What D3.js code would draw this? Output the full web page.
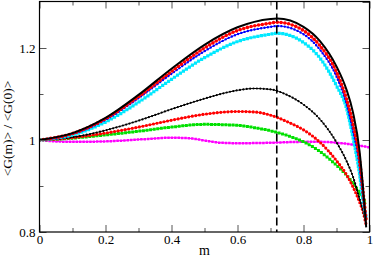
<!DOCTYPE html>
<html><head><meta charset="utf-8">
<script src="https://cdn.jsdelivr.net/npm/d3@7"></script>
<style>body{margin:0;background:#fff}svg{display:block}</style>
</head><body>
<svg id="c" width="374" height="258"></svg>
<script>
// ---- data ----
const mTop = [0,0.1,0.2,0.3,0.4,0.5,0.6,0.7,0.72,0.8,0.85,0.9,0.93,0.95,0.97,0.98,0.99];
const blackSolid = [1,1.015,1.048,1.098,1.155,1.207,1.245,1.263,1.264,1.246,1.215,1.160,1.11,1.06,0.975,0.90,0.81];
const redTop     = [1,1.014,1.046,1.094,1.149,1.200,1.238,1.254,1.256,1.238,1.205,1.148,1.09,1.035,0.955,0.89,0.825];
const blueTop    = [1,1.013,1.044,1.091,1.144,1.193,1.230,1.246,1.248,1.230,1.196,1.138,1.08,1.02,0.945,0.88,0.83];
const cyanTop    = [1,1.011,1.039,1.082,1.132,1.179,1.214,1.230,1.232,1.212,1.178,1.118,1.07,1.005,0.925,0.87,0.83];
const mLow = [0,0.1,0.2,0.3,0.4,0.5,0.6,0.65,0.7,0.75,0.8,0.85,0.9,0.93,0.95,0.97,0.98,0.99];
const blackDot = [1,1.006,1.021,1.042,1.067,1.090,1.108,1.112,1.110,1.098,1.077,1.045,0.995,0.955,0.92,0.872,0.848,0.82];
const redLow   = [1,1.005,1.015,1.028,1.043,1.056,1.062,1.061,1.054,1.040,1.022,0.995,0.955,0.925,0.898,0.865,0.845,0.815];
const greenLow = [1,1.004,1.011,1.019,1.028,1.034,1.032,1.027,1.020,1.010,0.996,0.975,0.945,0.924,0.906,0.885,0.874,0.862];
const mMag = [0,0.05,0.1,0.2,0.3,0.4,0.45,0.5,0.55,0.6,0.7,0.8,0.85,0.9,0.95,1.0];
const magenta = [1,0.997,0.996,0.997,1.001,1.005,1.004,0.999,0.994,0.993,0.994,0.996,0.996,0.994,0.99,0.984];
const mMark = 0.719;
const xTicks = [0,0.2,0.4,0.6,0.8,1];
const xTickLabels = ["0","0.2","0.4","0.6","0.8","1"];
const xMinor = [0.1,0.3,0.5,0.7,0.9];
const yTicks = [0.8,1,1.2];
const yTickLabels = ["0.8","1","1.2"];
const yMinor = [0.9,1.1];

// ---- chart ----
const svg = d3.select("#c");
const L=39.5,R=369.5,T=1.5,B=232;
const x = d3.scaleLinear([0,1],[L,R]);
const y = d3.scaleLinear([0.8,1.3],[B,2]);
const FONT = "Liberation Serif";

svg.append("clipPath").attr("id","clip").append("rect")
  .attr("x",L).attr("y",T).attr("width",R-L).attr("height",B-T);

const series = [
  {m:mMag, v:magenta, c:"#ff00ff", w:2.5, cap:"square", gap:3.4},
  {m:mLow, v:greenLow, c:"#00e000", w:3, cap:"square", gap:3.6},
  {m:mLow, v:redLow, c:"#ff0000", w:3.2, cap:"round", gap:3.6},
  {m:mLow, v:blackDot, c:"#000000", w:2.2, cap:"round", gap:3.4},
  {m:mTop, v:cyanTop, c:"#00e8ff", w:3.2, cap:"square", gap:3.6},
  {m:mTop, v:blueTop, c:"#0000ff", w:2.4, cap:"round", gap:3.4},
  {m:mTop, v:redTop, c:"#ff0000", w:3.6, cap:"round", gap:3.8},
];

const line = d3.line().x(d=>x(d[0])).y(d=>y(d[1])).curve(d3.curveMonotoneX);
const g = svg.append("g").attr("clip-path","url(#clip)");

series.forEach(s=>{
  const pts = s.m.map((m,i)=>[m,s.v[i]]);
  g.append("path").attr("d",line(pts)).attr("fill","none")
    .attr("stroke",s.c).attr("stroke-width",1);
  g.append("path").attr("d",line(pts)).attr("fill","none")
    .attr("stroke",s.c).attr("stroke-width",s.w)
    .attr("stroke-linecap",s.cap).attr("stroke-dasharray","0,"+s.gap);
});
g.append("path").attr("d",line(mTop.map((m,i)=>[m,blackSolid[i]])))
  .attr("fill","none").attr("stroke","#000").attr("stroke-width",2);

// dashed marker line
svg.append("line").attr("x1",x(mMark)).attr("x2",x(mMark)).attr("y1",T).attr("y2",B)
  .attr("stroke","#000").attr("stroke-width",1.6).attr("stroke-dasharray","8,4");

// axes
function style(sel){
  sel.attr("font-family",FONT).attr("font-size",13);
  sel.select(".domain").remove();
  sel.selectAll(".tick line").attr("stroke","#555");
  sel.selectAll("text").attr("font-family",FONT).attr("font-size",13).attr("fill","#000");
}
svg.append("g").attr("transform",`translate(0,${B})`)
  .call(d3.axisBottom(x).tickValues(xTicks).tickSize(-7).tickPadding(3).tickFormat((d,i)=>xTickLabels[i])).call(style);
svg.append("g").attr("transform",`translate(0,${B})`)
  .call(d3.axisBottom(x).tickValues(xMinor).tickSize(-4).tickFormat("")).call(style);
svg.append("g").attr("transform",`translate(0,${T})`)
  .call(d3.axisTop(x).tickValues(xTicks).tickSize(-7).tickFormat("")).call(style);
svg.append("g").attr("transform",`translate(0,${T})`)
  .call(d3.axisTop(x).tickValues(xMinor).tickSize(-4).tickFormat("")).call(style);
svg.append("g").attr("transform",`translate(${L},0)`)
  .call(d3.axisLeft(y).tickValues(yTicks).tickSize(-7).tickPadding(4).tickFormat((d,i)=>yTickLabels[i])).call(style);
svg.append("g").attr("transform",`translate(${L},0)`)
  .call(d3.axisLeft(y).tickValues(yMinor).tickSize(-4).tickFormat("")).call(style);
svg.append("g").attr("transform",`translate(${R},0)`)
  .call(d3.axisRight(y).tickValues(yTicks.concat([1.3])).tickSize(-7).tickFormat("")).call(style);
svg.append("g").attr("transform",`translate(${R},0)`)
  .call(d3.axisRight(y).tickValues(yMinor).tickSize(-4).tickFormat("")).call(style);

// frame
svg.append("rect").attr("x",L).attr("y",T).attr("width",R-L).attr("height",B-T)
  .attr("fill","none").attr("stroke","#000").attr("stroke-width",1.2);

// labels
svg.append("text").attr("x",x(0.5)).attr("y",255).attr("text-anchor","middle")
  .attr("font-family",FONT).attr("font-size",14).text("m");
svg.append("text").attr("transform",`translate(12,128.5) rotate(-90)`)
  .attr("text-anchor","middle").attr("font-family",FONT).attr("font-size",13.5)
  .text("<G(m)> / <G(0)>");
</script>
</body></html>
